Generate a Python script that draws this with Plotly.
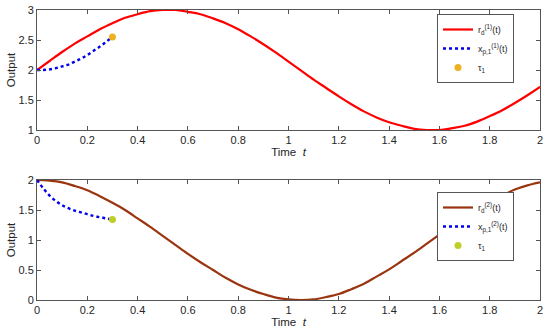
import plotly.graph_objects as go

# ---- data ----
t_ref = [round(i * 0.05, 2) for i in range(41)]
r1_vals = [2.00, 2.15, 2.30, 2.44, 2.56, 2.68, 2.78, 2.87, 2.93, 2.98, 3.00, 3.00, 2.97, 2.93,
           2.86, 2.78, 2.68, 2.56, 2.43, 2.29, 2.14, 1.99, 1.84, 1.70, 1.56, 1.43, 1.31, 1.21,
           1.13, 1.07, 1.02, 1.00, 1.00, 1.03, 1.07, 1.14, 1.23, 1.33, 1.45, 1.58, 1.72]
r2_vals = [2.00, 1.99, 1.96, 1.90, 1.83, 1.73, 1.62, 1.50, 1.36, 1.22, 1.07, 0.92, 0.77, 0.63,
           0.50, 0.37, 0.26, 0.17, 0.10, 0.04, 0.01, 0.00, 0.01, 0.05, 0.10, 0.18, 0.27, 0.39,
           0.51, 0.65, 0.79, 0.94, 1.09, 1.24, 1.38, 1.51, 1.64, 1.74, 1.84, 1.91, 1.96]
t_p = [0, 0.025, 0.05, 0.075, 0.1, 0.125, 0.15, 0.175, 0.2, 0.225, 0.25, 0.275, 0.3]
xp1_vals = [2.00, 2.00, 2.01, 2.03, 2.06, 2.09, 2.14, 2.19, 2.25, 2.32, 2.39, 2.47, 2.55]
xp2_vals = [2.00, 1.86, 1.74, 1.65, 1.58, 1.53, 1.49, 1.46, 1.43, 1.40, 1.38, 1.36, 1.34]
tau1_t = [0.3]
tau1_top = [2.55]
tau1_bot = [1.34]
x_ticks = [0, 0.2, 0.4, 0.6, 0.8, 1, 1.2, 1.4, 1.6, 1.8, 2]
x_tick_text = ["0", "0.2", "0.4", "0.6", "0.8", "1", "1.2", "1.4", "1.6", "1.8", "2"]
y1_ticks = [1, 1.5, 2, 2.5, 3]
y2_ticks = [0, 0.5, 1, 1.5, 2]

FONT = "Liberation Sans, Arial, sans-serif"
TXT = "#262626"
AX = "#555555"

fig = go.Figure()
fig.add_trace(go.Scatter(x=t_ref, y=r1_vals, mode="lines", line=dict(color="#FF0000", width=2.2, shape="spline"),
                         name="r<sub>d</sub><sup>(1)</sup>(t)", xaxis="x", yaxis="y", legend="legend", cliponaxis=False))
fig.add_trace(go.Scatter(x=t_p, y=xp1_vals, mode="lines", line=dict(color="#0000EE", width=2.4, dash="dot", shape="spline"),
                         name="x<sub>p,1</sub><sup>(1)</sup>(t)", xaxis="x", yaxis="y", legend="legend"))
fig.add_trace(go.Scatter(x=tau1_t, y=tau1_top, mode="markers", marker=dict(color="#EDB120", size=7),
                         name="τ<sub>1</sub>", xaxis="x", yaxis="y", legend="legend"))

fig.add_trace(go.Scatter(x=t_ref, y=r2_vals, mode="lines", line=dict(color="#9A3510", width=2.2, shape="spline"),
                         name="r<sub>d</sub><sup>(2)</sup>(t)", xaxis="x2", yaxis="y2", legend="legend2", cliponaxis=False))
fig.add_trace(go.Scatter(x=t_p, y=xp2_vals, mode="lines", line=dict(color="#0000EE", width=2.4, dash="dot", shape="spline"),
                         name="x<sub>p,1</sub><sup>(2)</sup>(t)", xaxis="x2", yaxis="y2", legend="legend2"))
fig.add_trace(go.Scatter(x=tau1_t, y=tau1_bot, mode="markers", marker=dict(color="#BFCF25", size=7),
                         name="τ<sub>1</sub>", xaxis="x2", yaxis="y2", legend="legend2"))

axis_common = dict(showline=True, linecolor=AX, linewidth=1, mirror="ticks", ticks="inside",
                   ticklen=4, tickcolor=AX, showgrid=False, zeroline=False, automargin=False,
                   tickfont=dict(family=FONT, size=11, color=TXT))

H_PLOT = 290.0
title_font = dict(family=FONT, size=11.5, color=TXT)
legend_font = dict(family=FONT, size=9, color=TXT)
fig.update_layout(
    width=550, height=334,
    margin=dict(l=37, r=10, t=10, b=34),
    plot_bgcolor="white", paper_bgcolor="white",
    font=dict(family=FONT, size=11, color=TXT),
    xaxis=dict(domain=[0, 1], range=[0, 2], tickvals=x_ticks, ticktext=x_tick_text, anchor="y",
               title=dict(text="Time  <i>t</i>", font=title_font, standoff=0),
               **axis_common),
    yaxis=dict(domain=[(300 - 130) / H_PLOT, 1], range=[1, 3], tickvals=y1_ticks, anchor="x",
               title=dict(text="Output", font=title_font, standoff=0),
               **axis_common),
    xaxis2=dict(domain=[0, 1], range=[0, 2], tickvals=x_ticks, ticktext=x_tick_text, anchor="y2",
                title=dict(text="Time  <i>t</i>", font=title_font, standoff=0),
                **axis_common),
    yaxis2=dict(domain=[0, (300 - 180) / H_PLOT], range=[0, 2], tickvals=y2_ticks, anchor="x2",
                title=dict(text="Output", font=title_font, standoff=0),
                **axis_common),
    legend=dict(x=(437 - 37) / 503.0, y=(300 - 14) / H_PLOT, xanchor="left", yanchor="top",
                bgcolor="white", bordercolor=AX, borderwidth=1,
                font=legend_font, tracegroupgap=0, itemwidth=30),
    legend2=dict(x=(437 - 37) / 503.0, y=(300 - 192) / H_PLOT, xanchor="left", yanchor="top",
                 bgcolor="white", bordercolor=AX, borderwidth=1,
                 font=legend_font, tracegroupgap=0, itemwidth=30),
    showlegend=True,
)

fig.write_html("out.html", config={"displayModeBar": False})

# remove the default page margin so the 550x334 figure fills the window exactly
with open("out.html", "r", encoding="utf-8") as f:
    html = f.read()
html = html.replace("<head>", "<head><style>html,body{margin:0;padding:0;overflow:hidden;}</style>", 1)
with open("out.html", "w", encoding="utf-8") as f:
    f.write(html)
